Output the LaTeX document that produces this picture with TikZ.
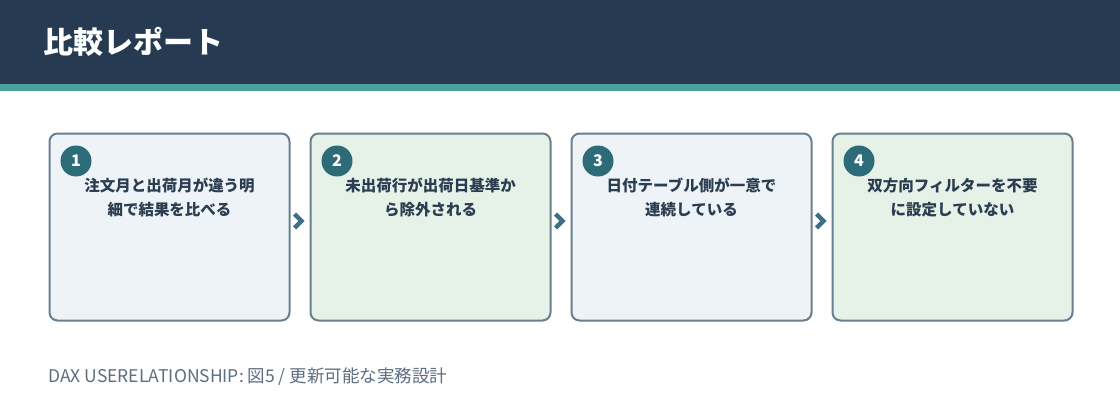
\documentclass[tikz,border=0pt]{standalone}
\usepackage{fontspec}
\setmainfont{Noto Sans CJK JP}
\usetikzlibrary{calc}
\definecolor{navy}{HTML}{263A52}
\definecolor{teal}{HTML}{4AA39A}
\definecolor{edge}{HTML}{6A7F90}
\definecolor{fillblue}{HTML}{EEF3F8}
\definecolor{fillgreen}{HTML}{E6F1E8}
\definecolor{badge}{HTML}{2D6B78}
\definecolor{txt}{HTML}{2B3D50}
\definecolor{chev}{HTML}{3F6E85}
\definecolor{foot}{HTML}{5C6E80}
\tikzset{
  card/.style={draw=edge, line width=2pt, rounded corners=8pt, minimum width=240pt, minimum height=187pt, anchor=north west, inner sep=0pt},
  bluecard/.style={card, fill=fillblue},
  greencard/.style={card, fill=fillgreen},
  badgenode/.style={circle, fill=badge, minimum size=31pt, inner sep=0pt, text=white, font=\fontsize{16pt}{18pt}\selectfont\bfseries},
  cardtext/.style={text=txt, align=center, font=\fontsize{15.5pt}{24pt}\selectfont\bfseries, anchor=north},
  chevron/.style={draw=chev, line width=4.4pt, line cap=butt, line join=miter}
}
\begin{document}
\begin{tikzpicture}[x=1pt,y=1pt]
\useasboundingbox (0,0) rectangle (1120,-420);
\fill[white] (0,0) rectangle (1120,-420);
\fill[navy] (0,0) rectangle (1120,-84);
\fill[teal] (0,-84) rectangle (1120,-91);
\node[anchor=west, text=white, font=\fontsize{30pt}{34pt}\selectfont\bfseries, inner sep=0pt] (title) at (43,-42) {比較レポート};

\node[bluecard] (b1) at (48.5,-132.5) {};
\node[greencard] (b2) at (309.5,-132.5) {};
\node[bluecard] (b3) at (570.5,-132.5) {};
\node[greencard] (b4) at (831.5,-132.5) {};

\foreach \i in {1,2,3,4}{
  \node[badgenode] (n\i) at ($(b\i.north west)+(27.5,-28.5)$) {\i};
}
\node[cardtext] (t1) at ($(b1.north)+(0,-42)$) {注文月と出荷月が違う明\\細で結果を比べる};
\node[cardtext] (t2) at ($(b2.north)+(0,-42)$) {未出荷行が出荷日基準か\\ら除外される};
\node[cardtext] (t3) at ($(b3.north)+(0,-42)$) {日付テーブル側が一意で\\連続している};
\node[cardtext] (t4) at ($(b4.north)+(0,-42)$) {双方向フィルターを不要\\に設定していない};

\foreach \a/\b in {b1/b2,b2/b3,b3/b4}{
  \coordinate (m\a) at ($(\a.east)!0.5!(\b.west)+(0,6)$);
  \draw[chevron] ($(m\a)+(-5.5,7)$) -- ($(m\a)+(1.5,0)$) -- ($(m\a)+(-5.5,-7)$);
}

\node[anchor=west, text=foot, font=\fontsize{17.5pt}{20pt}\selectfont, inner sep=0pt] (footer) at (48,-377) {DAX USERELATIONSHIP: 図5 / 更新可能な実務設計};
\end{tikzpicture}
\end{document}
